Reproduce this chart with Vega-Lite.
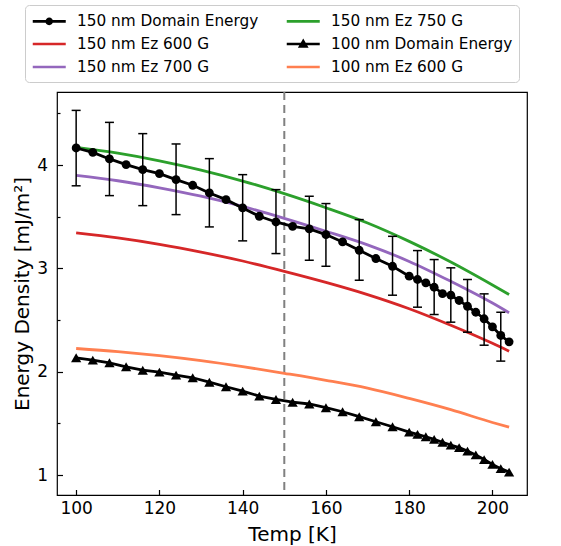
{
  "$schema": "https://vega.github.io/schema/vega-lite/v6.json",
  "width": 470,
  "height": 403,
  "autosize": {"type": "none"},
  "padding": {"left": 57, "top": 92, "right": 34, "bottom": 51},
  "config": {
    "font": "DejaVu Sans",
    "view": {"stroke": "black", "strokeWidth": 1.2},
    "axis": {"grid": false, "domain": false, "tickColor": "black", "tickWidth": 1.2, "labelColor": "black", "titleColor": "black", "labelFontSize": 17, "titleFontSize": 20, "titleFontWeight": "normal", "labelFont": "DejaVu Sans", "titleFont": "DejaVu Sans"},
    "legend": {"orient": "none", "legendX": -32, "legendY": -87, "columns": 2, "title": null, "labelFontSize": 15.3, "labelFont": "DejaVu Sans", "labelColor": "black", "symbolSize": 272.25, "symbolStrokeWidth": 2.6, "fillColor": "white", "strokeColor": "#cccccc", "cornerRadius": 4, "padding": 6, "rowPadding": 4, "columnPadding": 22, "labelOffset": 26, "labelLimit": 400, "symbolOpacity": 1}
  },
  "data": {"values": [
    {"s": "150 nm Domain Energy", "T": 100, "E": 4.166, "lo": 3.80, "hi": 4.53},
    {"s": "150 nm Domain Energy", "T": 104, "E": 4.124},
    {"s": "150 nm Domain Energy", "T": 108, "E": 4.06, "lo": 3.705, "hi": 4.414},
    {"s": "150 nm Domain Energy", "T": 112, "E": 4.005},
    {"s": "150 nm Domain Energy", "T": 116, "E": 3.956, "lo": 3.608, "hi": 4.305},
    {"s": "150 nm Domain Energy", "T": 120, "E": 3.918},
    {"s": "150 nm Domain Energy", "T": 124, "E": 3.86, "lo": 3.521, "hi": 4.205},
    {"s": "150 nm Domain Energy", "T": 128, "E": 3.805},
    {"s": "150 nm Domain Energy", "T": 132, "E": 3.731, "lo": 3.402, "hi": 4.063},
    {"s": "150 nm Domain Energy", "T": 136, "E": 3.666},
    {"s": "150 nm Domain Energy", "T": 140, "E": 3.586, "lo": 3.267, "hi": 3.908},
    {"s": "150 nm Domain Energy", "T": 144, "E": 3.505},
    {"s": "150 nm Domain Energy", "T": 148, "E": 3.45, "lo": 3.144, "hi": 3.763},
    {"s": "150 nm Domain Energy", "T": 152, "E": 3.408},
    {"s": "150 nm Domain Energy", "T": 156, "E": 3.383, "lo": 3.079, "hi": 3.698},
    {"s": "150 nm Domain Energy", "T": 160, "E": 3.328, "lo": 3.021, "hi": 3.628},
    {"s": "150 nm Domain Energy", "T": 164, "E": 3.257},
    {"s": "150 nm Domain Energy", "T": 168, "E": 3.176, "lo": 2.886, "hi": 3.473},
    {"s": "150 nm Domain Energy", "T": 172, "E": 3.096},
    {"s": "150 nm Domain Energy", "T": 176, "E": 3.021, "lo": 2.741, "hi": 3.311},
    {"s": "150 nm Domain Energy", "T": 180, "E": 2.925},
    {"s": "150 nm Domain Energy", "T": 182, "E": 2.893, "lo": 2.625, "hi": 3.173},
    {"s": "150 nm Domain Energy", "T": 184, "E": 2.861},
    {"s": "150 nm Domain Energy", "T": 186, "E": 2.818, "lo": 2.554, "hi": 3.086},
    {"s": "150 nm Domain Energy", "T": 188, "E": 2.757},
    {"s": "150 nm Domain Energy", "T": 190, "E": 2.741, "lo": 2.48, "hi": 3.006},
    {"s": "150 nm Domain Energy", "T": 192, "E": 2.69},
    {"s": "150 nm Domain Energy", "T": 194, "E": 2.634, "lo": 2.383, "hi": 2.893},
    {"s": "150 nm Domain Energy", "T": 196, "E": 2.576},
    {"s": "150 nm Domain Energy", "T": 198, "E": 2.513, "lo": 2.257, "hi": 2.754},
    {"s": "150 nm Domain Energy", "T": 200, "E": 2.435},
    {"s": "150 nm Domain Energy", "T": 202, "E": 2.351, "lo": 2.103, "hi": 2.576},
    {"s": "150 nm Domain Energy", "T": 204, "E": 2.29},
    {"s": "100 nm Domain Energy", "T": 100, "E": 2.135},
    {"s": "100 nm Domain Energy", "T": 104, "E": 2.112},
    {"s": "100 nm Domain Energy", "T": 108, "E": 2.087},
    {"s": "100 nm Domain Energy", "T": 112, "E": 2.048},
    {"s": "100 nm Domain Energy", "T": 116, "E": 2.015},
    {"s": "100 nm Domain Energy", "T": 120, "E": 1.996},
    {"s": "100 nm Domain Energy", "T": 124, "E": 1.967},
    {"s": "100 nm Domain Energy", "T": 128, "E": 1.942},
    {"s": "100 nm Domain Energy", "T": 132, "E": 1.899},
    {"s": "100 nm Domain Energy", "T": 136, "E": 1.855},
    {"s": "100 nm Domain Energy", "T": 140, "E": 1.812},
    {"s": "100 nm Domain Energy", "T": 144, "E": 1.764},
    {"s": "100 nm Domain Energy", "T": 148, "E": 1.732},
    {"s": "100 nm Domain Energy", "T": 152, "E": 1.705},
    {"s": "100 nm Domain Energy", "T": 156, "E": 1.688},
    {"s": "100 nm Domain Energy", "T": 160, "E": 1.652},
    {"s": "100 nm Domain Energy", "T": 164, "E": 1.613},
    {"s": "100 nm Domain Energy", "T": 168, "E": 1.565},
    {"s": "100 nm Domain Energy", "T": 172, "E": 1.516},
    {"s": "100 nm Domain Energy", "T": 176, "E": 1.468},
    {"s": "100 nm Domain Energy", "T": 180, "E": 1.416},
    {"s": "100 nm Domain Energy", "T": 182, "E": 1.394},
    {"s": "100 nm Domain Energy", "T": 184, "E": 1.371},
    {"s": "100 nm Domain Energy", "T": 186, "E": 1.345},
    {"s": "100 nm Domain Energy", "T": 188, "E": 1.318},
    {"s": "100 nm Domain Energy", "T": 190, "E": 1.29},
    {"s": "100 nm Domain Energy", "T": 192, "E": 1.265},
    {"s": "100 nm Domain Energy", "T": 194, "E": 1.232},
    {"s": "100 nm Domain Energy", "T": 196, "E": 1.195},
    {"s": "100 nm Domain Energy", "T": 198, "E": 1.15},
    {"s": "100 nm Domain Energy", "T": 200, "E": 1.103},
    {"s": "100 nm Domain Energy", "T": 202, "E": 1.062},
    {"s": "100 nm Domain Energy", "T": 204, "E": 1.029},
    {"s": "150 nm Eᴢ 750 G", "T": 100, "E": 4.172},
    {"s": "150 nm Eᴢ 750 G", "T": 110, "E": 4.116},
    {"s": "150 nm Eᴢ 750 G", "T": 120, "E": 4.042},
    {"s": "150 nm Eᴢ 750 G", "T": 130, "E": 3.952},
    {"s": "150 nm Eᴢ 750 G", "T": 140, "E": 3.846},
    {"s": "150 nm Eᴢ 750 G", "T": 150, "E": 3.724},
    {"s": "150 nm Eᴢ 750 G", "T": 160, "E": 3.588},
    {"s": "150 nm Eᴢ 750 G", "T": 170, "E": 3.44},
    {"s": "150 nm Eᴢ 750 G", "T": 180, "E": 3.262},
    {"s": "150 nm Eᴢ 750 G", "T": 190, "E": 3.062},
    {"s": "150 nm Eᴢ 750 G", "T": 200, "E": 2.84},
    {"s": "150 nm Eᴢ 750 G", "T": 204, "E": 2.748},
    {"s": "150 nm Eᴢ 700 G", "T": 100, "E": 3.9},
    {"s": "150 nm Eᴢ 700 G", "T": 110, "E": 3.849},
    {"s": "150 nm Eᴢ 700 G", "T": 120, "E": 3.781},
    {"s": "150 nm Eᴢ 700 G", "T": 130, "E": 3.699},
    {"s": "150 nm Eᴢ 700 G", "T": 140, "E": 3.6},
    {"s": "150 nm Eᴢ 700 G", "T": 150, "E": 3.485},
    {"s": "150 nm Eᴢ 700 G", "T": 160, "E": 3.36},
    {"s": "150 nm Eᴢ 700 G", "T": 170, "E": 3.228},
    {"s": "150 nm Eᴢ 700 G", "T": 180, "E": 3.068},
    {"s": "150 nm Eᴢ 700 G", "T": 190, "E": 2.875},
    {"s": "150 nm Eᴢ 700 G", "T": 200, "E": 2.665},
    {"s": "150 nm Eᴢ 700 G", "T": 204, "E": 2.571},
    {"s": "150 nm Eᴢ 600 G", "T": 100, "E": 3.344},
    {"s": "150 nm Eᴢ 600 G", "T": 110, "E": 3.295},
    {"s": "150 nm Eᴢ 600 G", "T": 120, "E": 3.233},
    {"s": "150 nm Eᴢ 600 G", "T": 130, "E": 3.158},
    {"s": "150 nm Eᴢ 600 G", "T": 140, "E": 3.072},
    {"s": "150 nm Eᴢ 600 G", "T": 150, "E": 2.972},
    {"s": "150 nm Eᴢ 600 G", "T": 160, "E": 2.865},
    {"s": "150 nm Eᴢ 600 G", "T": 170, "E": 2.747},
    {"s": "150 nm Eᴢ 600 G", "T": 180, "E": 2.61},
    {"s": "150 nm Eᴢ 600 G", "T": 190, "E": 2.45},
    {"s": "150 nm Eᴢ 600 G", "T": 200, "E": 2.275},
    {"s": "150 nm Eᴢ 600 G", "T": 204, "E": 2.199},
    {"s": "100 nm Eᴢ 600 G", "T": 100, "E": 2.225},
    {"s": "100 nm Eᴢ 600 G", "T": 110, "E": 2.195},
    {"s": "100 nm Eᴢ 600 G", "T": 120, "E": 2.156},
    {"s": "100 nm Eᴢ 600 G", "T": 130, "E": 2.108},
    {"s": "100 nm Eᴢ 600 G", "T": 140, "E": 2.05},
    {"s": "100 nm Eᴢ 600 G", "T": 150, "E": 1.985},
    {"s": "100 nm Eᴢ 600 G", "T": 160, "E": 1.917},
    {"s": "100 nm Eᴢ 600 G", "T": 170, "E": 1.841},
    {"s": "100 nm Eᴢ 600 G", "T": 180, "E": 1.742},
    {"s": "100 nm Eᴢ 600 G", "T": 190, "E": 1.633},
    {"s": "100 nm Eᴢ 600 G", "T": 200, "E": 1.509},
    {"s": "100 nm Eᴢ 600 G", "T": 204, "E": 1.464}
  ]},
  "encoding": {
    "x": {"field": "T", "type": "quantitative", "title": "Temp [K]",
      "scale": {"domain": [95.4, 208.3], "nice": false, "zero": false},
      "axis": {"values": [100, 120, 140, 160, 180, 200], "tickSize": -5.5, "labelPadding": 11, "titlePadding": 8}}
  },
  "layer": [
    {
      "data": {"values": [{"T": 150}]},
      "mark": {"type": "rule", "strokeDash": [8, 5], "color": "#808080", "strokeWidth": 2},
      "encoding": {}
    },
    {
      "transform": [{"filter": "indexof(datum.s, 'Domain') < 0"}],
      "mark": {"type": "line", "strokeWidth": 2.8, "interpolate": "monotone"},
      "encoding": {
        "y": {"field": "E", "type": "quantitative", "title": "Energy Density [mJ/m²]",
          "scale": {"domain": [0.807, 4.708], "nice": false, "zero": false},
          "axis": {"values": [1, 1.5, 2, 2.5, 3, 3.5, 4, 4.5], "labelExpr": "datum.value % 1 === 0 ? format(datum.value, 'd') : ''", "tickSize": {"condition": {"test": "datum.value % 1 !== 0", "value": -3}, "value": -5.5}, "labelPadding": 15, "titlePadding": 4}},
        "color": {"field": "s", "type": "nominal",
          "scale": {"domain": ["150 nm Domain Energy", "150 nm Eᴢ 600 G", "150 nm Eᴢ 700 G", "150 nm Eᴢ 750 G", "100 nm Domain Energy", "100 nm Eᴢ 600 G"],
                    "range": ["black", "#d62728", "#9467bd", "#2ca02c", "black", "#ff7f50"]}}
      }
    },
    {
      "transform": [{"filter": "isValid(datum.lo)"}],
      "mark": {"type": "rule", "color": "black", "strokeWidth": 1.5},
      "encoding": {
        "y": {"field": "lo", "type": "quantitative", "title": "Energy Density [mJ/m²]", "scale": {"domain": [0.807, 4.708], "nice": false, "zero": false}},
        "y2": {"field": "hi"}
      }
    },
    {
      "transform": [{"filter": "isValid(datum.lo)"}],
      "mark": {"type": "tick", "color": "black", "orient": "horizontal", "size": 9, "thickness": 1.5, "opacity": 1},
      "encoding": {
        "y": {"field": "lo", "type": "quantitative", "title": "Energy Density [mJ/m²]", "scale": {"domain": [0.807, 4.708], "nice": false, "zero": false}}
      }
    },
    {
      "transform": [{"filter": "isValid(datum.hi)"}],
      "mark": {"type": "tick", "color": "black", "orient": "horizontal", "size": 9, "thickness": 1.5, "opacity": 1},
      "encoding": {
        "y": {"field": "hi", "type": "quantitative", "title": "Energy Density [mJ/m²]", "scale": {"domain": [0.807, 4.708], "nice": false, "zero": false}}
      }
    },
    {
      "transform": [{"filter": "indexof(datum.s, 'Domain') >= 0"}],
      "mark": {"type": "line", "strokeWidth": 2.8},
      "encoding": {
        "y": {"field": "E", "type": "quantitative", "title": "Energy Density [mJ/m²]", "scale": {"domain": [0.807, 4.708], "nice": false, "zero": false}},
        "color": {"field": "s", "type": "nominal",
          "scale": {"domain": ["150 nm Domain Energy", "150 nm Eᴢ 600 G", "150 nm Eᴢ 700 G", "150 nm Eᴢ 750 G", "100 nm Domain Energy", "100 nm Eᴢ 600 G"],
                    "range": ["black", "#d62728", "#9467bd", "#2ca02c", "black", "#ff7f50"]}}
      }
    },
    {
      "transform": [{"filter": "datum.s === '150 nm Domain Energy'"}],
      "mark": {"type": "point", "shape": "circle", "filled": true, "size": 78, "color": "black", "opacity": 1},
      "encoding": {
        "y": {"field": "E", "type": "quantitative", "title": "Energy Density [mJ/m²]", "scale": {"domain": [0.807, 4.708], "nice": false, "zero": false}}
      }
    },
    {
      "transform": [{"filter": "datum.s === '100 nm Domain Energy'"}],
      "mark": {"type": "point", "shape": "triangle-up", "filled": true, "size": 105, "color": "black", "opacity": 1},
      "encoding": {
        "y": {"field": "E", "type": "quantitative", "title": "Energy Density [mJ/m²]", "scale": {"domain": [0.807, 4.708], "nice": false, "zero": false}}
      }
    },
    {
      "transform": [{"filter": "datum.T < 0"}],
      "mark": {"type": "point", "filled": true, "opacity": 1},
      "encoding": {
        "y": {"field": "E", "type": "quantitative", "title": "Energy Density [mJ/m²]", "scale": {"domain": [0.807, 4.708], "nice": false, "zero": false}},
        "color": {"field": "s", "type": "nominal",
          "scale": {"domain": ["150 nm Domain Energy", "150 nm Eᴢ 600 G", "150 nm Eᴢ 700 G", "150 nm Eᴢ 750 G", "100 nm Domain Energy", "100 nm Eᴢ 600 G"],
                    "range": ["black", "#d62728", "#9467bd", "#2ca02c", "black", "#ff7f50"]},
          "legend": {"encode": {"symbols": {"update": {"stroke": {"scale": "color", "field": "value"}, "fill": {"scale": "color", "field": "value"}, "strokeWidth": {"value": 2.6}, "opacity": {"value": 1}}}}}},
        "shape": {"field": "s", "type": "nominal",
          "scale": {"domain": ["150 nm Domain Energy", "150 nm Eᴢ 600 G", "150 nm Eᴢ 700 G", "150 nm Eᴢ 750 G", "100 nm Domain Energy", "100 nm Eᴢ 600 G"],
                    "range": ["M-1,0H3M1.3,0A0.3,0.3,0,1,1,0.7,0A0.3,0.3,0,1,1,1.3,0Z", "M-1,0H3", "M-1,0H3", "M-1,0H3", "M-1,0H3M1,-0.36L1.38,0.3L0.62,0.3Z", "M-1,0H3"]},
          "legend": {"encode": {"symbols": {"update": {"stroke": {"scale": "color", "field": "value"}, "fill": {"scale": "color", "field": "value"}, "strokeWidth": {"value": 2.6}, "opacity": {"value": 1}}}}}}
      }
    }
  ]
}
